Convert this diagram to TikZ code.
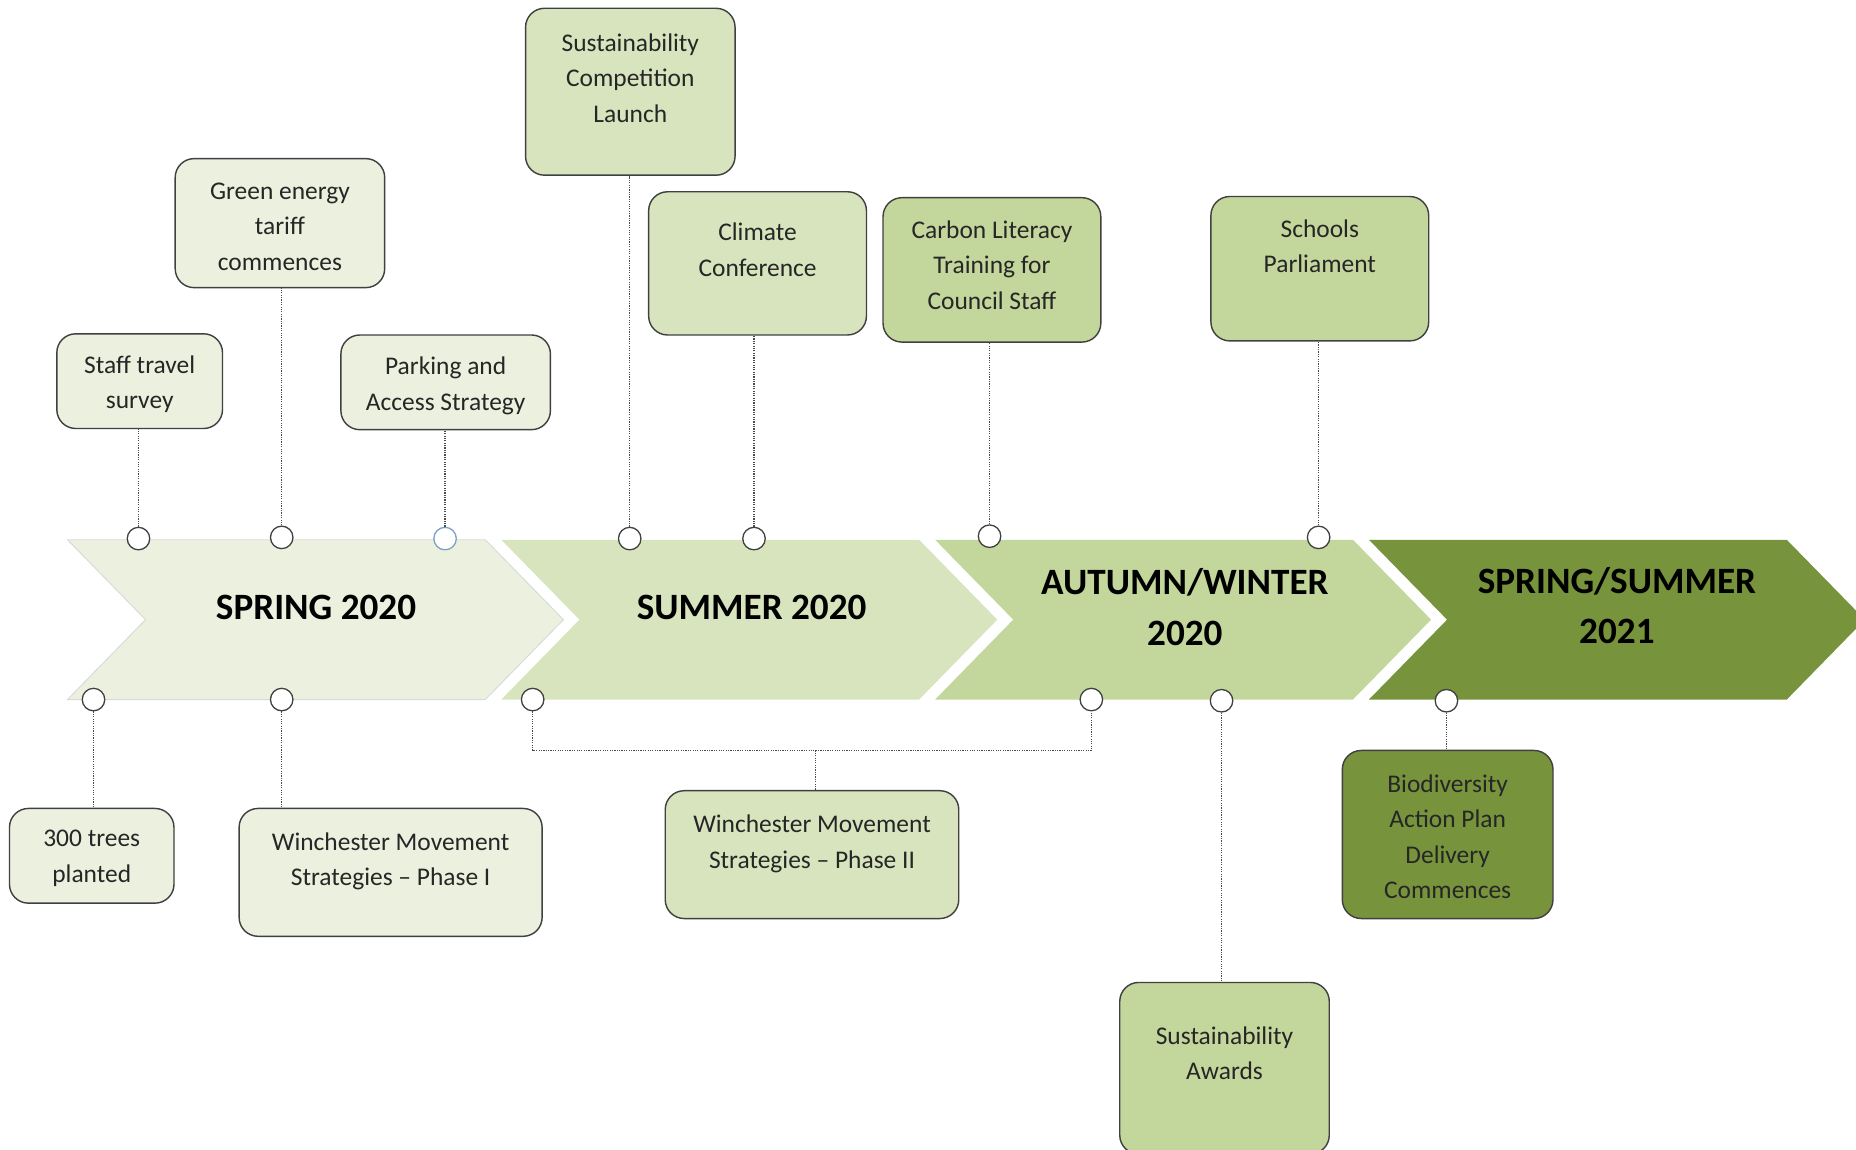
\documentclass[tikz,border=0pt]{standalone}
\usepackage{fontspec}
\setmainfont{Carlito}
\definecolor{cA}{HTML}{EBF1DE}
\definecolor{cB}{HTML}{D7E4BD}
\definecolor{cC}{HTML}{C3D69B}
\definecolor{cD}{HTML}{77933C}
\definecolor{bord}{HTML}{404040}
\definecolor{txtc}{HTML}{262626}
\definecolor{conn}{HTML}{4A4A4A}
\definecolor{bluedot}{HTML}{7F9FC5}
\newcommand\bxt[1]{\parbox[t]{300pt}{\centering #1}}
\tikzset{
  evbox/.style={draw=bord, line width=1.2pt, rounded corners=16pt, inner sep=0pt},
  evtxt/.style={inner sep=0pt, anchor=base, text=txtc, font=\fontsize{21.5}{30}\selectfont},
  ttl/.style={inner sep=0pt, anchor=base, text=black, font=\bfseries\fontsize{31.4}{43}\selectfont},
  dotn/.style={circle, draw=bord, fill=white, line width=1.1pt, minimum size=19pt, inner sep=0pt},
  cline/.style={draw=conn, line width=1pt, dash pattern=on 1pt off 1pt}
}
\begin{document}
\begin{tikzpicture}[x=1pt,y=-1pt]
\useasboundingbox (0,0) rectangle (1568,971);
% chevrons
\fill[cA, draw=black!15, line width=0.8pt] (57,456) -- (410,456) -- (476,523.5) -- (410,591) -- (57,591) -- (123,523.5) -- cycle;
\fill[cB] (423.5,456) -- (776.5,456) -- (842.5,523.5) -- (776.5,591) -- (423.5,591) -- (489.5,523.5) -- cycle;
\fill[cC] (790,456) -- (1143,456) -- (1209,523.5) -- (1143,591) -- (790,591) -- (856,523.5) -- cycle;
\fill[cD] (1156.5,456) -- (1509.5,456) -- (1575.5,523.5) -- (1509.5,591) -- (1156.5,591) -- (1222.5,523.5) -- cycle;
\node[ttl] (t1) at (267,523) {\bxt{SPRING 2020}};
\node[ttl] (t2) at (635,523) {\bxt{SUMMER 2020}};
\node[ttl] (t3) at (1001,502) {\bxt{AUTUMN/WINTER\\2020}};
\node[ttl] (t4) at (1366,501) {\bxt{SPRING/SUMMER\\2021}};
% boxes top
\node[evbox, fill=cA, minimum width=140, minimum height=80] (st) at (118,322) {};
\node[evtxt] at ([yshift=-34pt]st.north) {\bxt{Staff travel\\survey}};
\node[evbox, fill=cA, minimum width=177, minimum height=109] (ge) at (236.5,188.5) {};
\node[evtxt] at ([yshift=-35pt]ge.north) {\bxt{Green energy\\tariff\\commences}};
\node[evbox, fill=cA, minimum width=177, minimum height=80] (pa) at (376.5,323) {};
\node[evtxt] at ([yshift=-34pt]pa.north) {\bxt{Parking and\\Access Strategy}};
\node[evbox, fill=cB, minimum width=177, minimum height=141] (sc) at (532.5,77.5) {};
\node[evtxt] at ([yshift=-37pt]sc.north) {\bxt{Sustainability\\Competition\\Launch}};
\node[evbox, fill=cB, minimum width=184, minimum height=121] (cc) at (640,222.5) {};
\node[evtxt] at ([yshift=-42pt]cc.north) {\bxt{Climate\\Conference}};
\node[evbox, fill=cC, minimum width=184, minimum height=122] (cl) at (838,228) {};
\node[evtxt] at ([yshift=-35pt]cl.north) {\bxt{Carbon Literacy\\Training for\\Council Staff}};
\node[evbox, fill=cC, minimum width=184, minimum height=122] (sp) at (1115,227) {};
\node[evtxt] at ([yshift=-35pt]sp.north) {\bxt{Schools\\Parliament}};
% boxes bottom
\node[evbox, fill=cA, minimum width=139, minimum height=80] (tr) at (77.5,723) {};
\node[evtxt] at ([yshift=-33pt]tr.north) {\bxt{300 trees\\planted}};
\node[evbox, fill=cA, minimum width=256, minimum height=108] (w1) at (330,737) {};
\node[evtxt] at ([yshift=-36pt]w1.north) {\bxt{Winchester Movement\\Strategies -- Phase I}};
\node[evbox, fill=cB, minimum width=248, minimum height=108] (w2) at (686,722) {};
\node[evtxt] at ([yshift=-36pt]w2.north) {\bxt{Winchester Movement\\Strategies -- Phase II}};
\node[evbox, fill=cC, minimum width=177, minimum height=145] (sa) at (1034.5,902.5) {};
\node[evtxt] at ([yshift=-53pt]sa.north) {\bxt{Sustainability\\Awards}};
\node[evbox, fill=cD, minimum width=178, minimum height=142] (bd) at (1223,705) {};
\node[evtxt] at ([yshift=-36pt]bd.north) {\bxt{Biodiversity\\Action Plan\\Delivery\\Commences}};
% dots top
\node[dotn] (dst) at (117,455) {};
\node[dotn] (dge) at (238,454) {};
\node[dotn, draw=bluedot] (dpa) at (376,455) {};
\node[dotn] (dsc) at (532,455) {};
\node[dotn] (dcc) at (637,455) {};
\node[dotn] (dcl) at (836,453) {};
\node[dotn] (dsp) at (1114,454) {};
% dots bottom
\node[dotn] (dtr) at (79,591) {};
\node[dotn] (dw1) at (238,591) {};
\node[dotn] (dwa) at (450,591) {};
\node[dotn] (dwb) at (922,591) {};
\node[dotn] (dsa) at (1032,592) {};
\node[dotn] (dbd) at (1222,592) {};
% connectors top
\draw[cline] (dst) -- (dst |- st.south);
\draw[cline] (dge) -- (dge |- ge.south);
\draw[cline] (dpa) -- (dpa |- pa.south);
\draw[cline] (dsc) -- (dsc |- sc.south);
\draw[cline] (dcc) -- (dcc |- cc.south);
\draw[cline] (dcl) -- (dcl |- cl.south);
\draw[cline] (dsp) -- (dsp |- sp.south);
% connectors bottom
\draw[cline] (dtr) -- (dtr |- tr.north);
\draw[cline] (dw1) -- (dw1 |- w1.north);
\coordinate (jw) at (689,634);
\draw[cline] (dwa) |- (jw) -| (dwb);
\draw[cline] (jw) -- (jw |- w2.north);
\draw[cline] (dsa) -- (dsa |- sa.north);
\draw[cline] (dbd) -- (dbd |- bd.north);
\end{tikzpicture}
\end{document}
